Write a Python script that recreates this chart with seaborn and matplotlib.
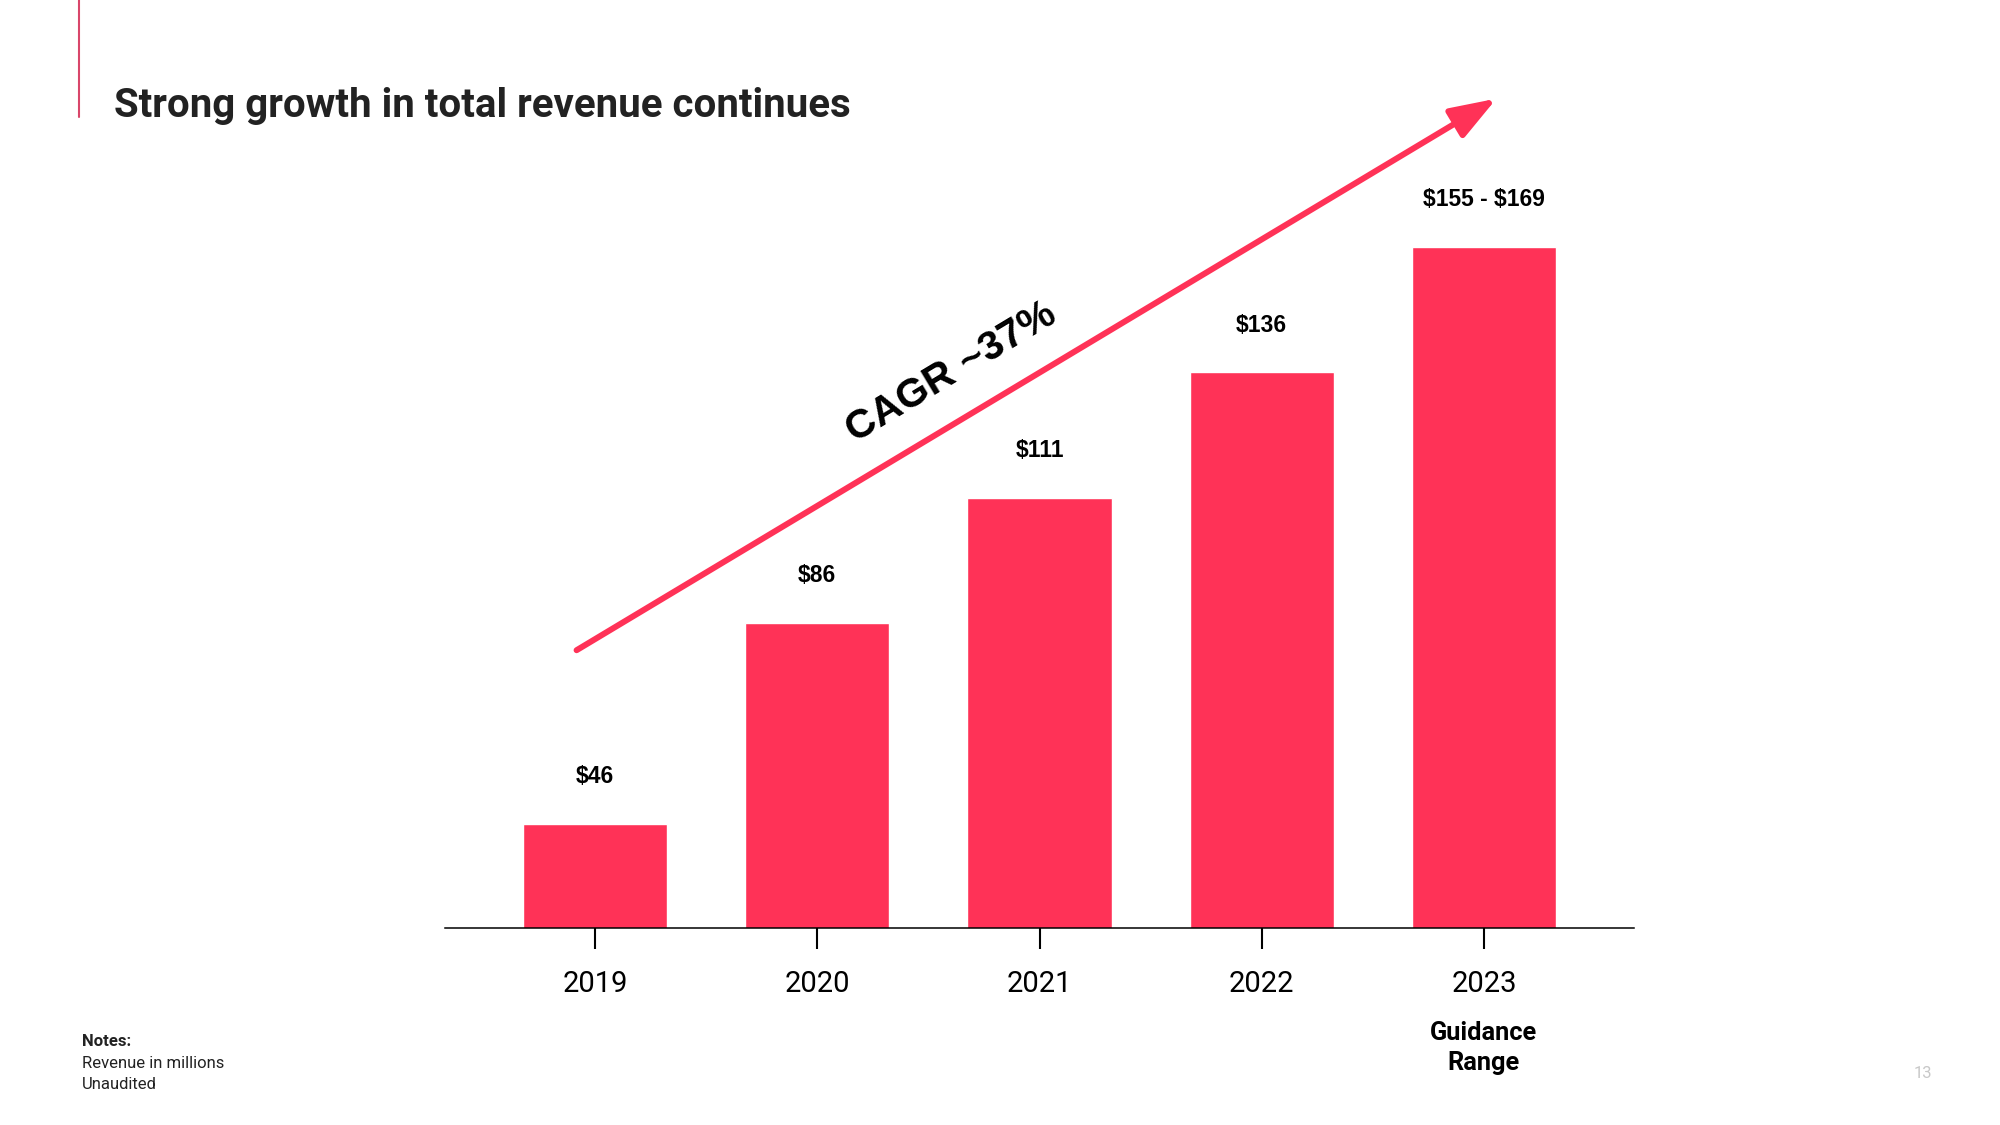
import matplotlib
matplotlib.use("Agg")
import matplotlib.pyplot as plt
import seaborn as sns
import pandas as pd

years = ["2019", "2020", "2021", "2022", "2023"]
revenue = [46, 86, 111, 136, 161]
value_labels = ["$46", "$86", "$111", "$136", "$155 - $169"]
cagr_text = "CAGR ~37%"
notes = ["Revenue in millions", "Unaudited"]

RED = "#FF3257"

sns.set_style("white")
plt.rcParams["font.family"] = ["Roboto", "DejaVu Sans"]

df = pd.DataFrame({"year": years, "revenue": revenue})

fig = plt.figure(figsize=(20, 11.25), dpi=100)
ax = fig.add_axes([0.2225, 0.17511, 0.5945, 0.78044])

sns.barplot(data=df, x="year", y="revenue", color=RED, saturation=1,
            width=0.648, ax=ax)

ax.set_xlim(-0.675, 4.675)
ax.set_ylim(25.2, 200.3)
ax.set_xlabel("")
ax.set_ylabel("")
ax.set_yticks([])
for s in ["top", "right", "left"]:
    ax.spines[s].set_visible(False)
ax.spines["bottom"].set_color("black")
ax.spines["bottom"].set_linewidth(1.1)
ax.tick_params(axis="x", length=15, width=1.5, color="black", pad=15,
               labelsize=21, labelcolor="black", bottom=True)

# value labels above bars (escape $ so mathtext stays off)
for i, (v, lab) in enumerate(zip(revenue, value_labels)):
    ax.annotate(lab.replace("$", r"\$"), (i, v), xytext=(0, 34),
                textcoords="offset points", ha="center", va="center",
                fontsize=16.5, fontweight="bold", family="Liberation Sans",
                color="black")

# guidance range under the last year
ax.text(4, -0.1363, "Guidance\nRange", transform=ax.get_xaxis_transform(),
        ha="center", va="center", fontsize=18.3, fontweight="bold",
        linespacing=1.3, color="black")

# growth arrow
ax.annotate("", xy=(4.056, 190.6), xytext=(-0.083, 80.6),
            arrowprops=dict(arrowstyle="-|>,head_length=1.4,head_width=0.5",
                            lw=4.3, color=RED, mutation_scale=20,
                            shrinkA=0, shrinkB=0),
            annotation_clip=False)
ax.text(1.605, 136.1, cagr_text.replace("%", r"%"), rotation=31,
        rotation_mode="anchor", ha="center", va="center", fontsize=29.5,
        fontweight="bold", family="Liberation Sans", color="black")

# slide furniture
fig.add_artist(plt.Line2D([0.0395, 0.0395], [0.896, 1.0], color="#D9466A",
                          lw=1.5, transform=fig.transFigure))
fig.text(0.0568, 0.896, "Strong growth in total revenue continues",
         fontsize=29, fontweight="bold", color="#222222", va="baseline")
fig.text(0.041, 0.0738, "Notes:", fontsize=12, fontweight="bold",
         color="#222222", va="center")
for k, line in enumerate(notes):
    fig.text(0.041, 0.0551 - k * 0.0187, line, fontsize=12,
             color="#222222", va="center")
fig.text(0.9615, 0.0462, "13", fontsize=12, color="#C8C8C8",
         ha="center", va="center")

fig.savefig("out.png", dpi=100)
